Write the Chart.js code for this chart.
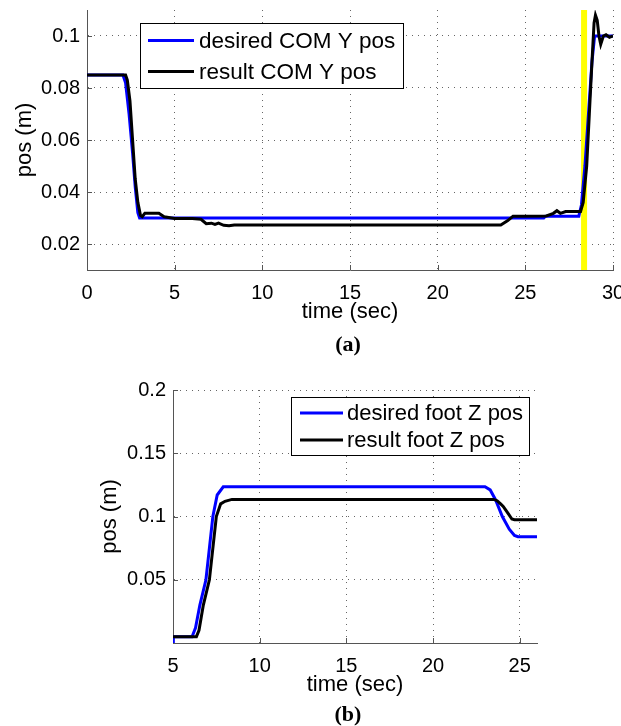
<!DOCTYPE html>
<html><head><meta charset="utf-8">
<script src="https://cdn.jsdelivr.net/npm/chart.js@4.4.0/dist/chart.umd.min.js"></script>
<style>
body{margin:0;background:#fff;width:621px;height:726px;position:relative;overflow:hidden;font-family:"Liberation Sans",Arial,sans-serif}
canvas{position:absolute;left:0}
#c1{top:0}
#c2{top:330px}
.cap{position:absolute;width:100px;text-align:center;font-family:"Liberation Serif","Times New Roman",serif;font-weight:bold;font-size:22px;line-height:22px}
</style></head><body>
<canvas id="c1" width="621" height="330"></canvas>
<canvas id="c2" width="621" height="396"></canvas>
<div class="cap" style="left:298px;top:333px">(a)</div>
<div class="cap" style="left:298px;top:703px">(b)</div>
<script>
// ---------- Chart (a): COM Y position ----------
const desiredComT = [0, 2.05, 2.2, 2.4, 2.6, 2.75, 2.9, 3.0, 26.05, 26.15, 28.05, 28.2, 28.4, 28.6, 28.8, 28.95, 30];
const desiredComY = [0.085, 0.085, 0.082, 0.07, 0.055, 0.042, 0.032, 0.030, 0.030, 0.0307, 0.0307, 0.035, 0.05, 0.07, 0.09, 0.1, 0.1];
const resultComT = [0, 2.2, 2.3, 2.45, 2.6, 2.75, 2.9, 3.05, 3.15, 3.3, 4.1, 4.4, 5.0, 6.0, 6.5, 6.8, 7.1, 7.3, 7.5, 7.8, 8.1, 8.4, 23.6, 24.0, 24.3, 24.8, 26.2, 26.6, 26.8, 27.0, 27.3, 28.15, 28.3, 28.5, 28.65, 28.8, 28.92, 29.0, 29.1, 29.2, 29.3, 29.45, 29.6, 29.8, 30];
const resultComY = [0.085, 0.085, 0.083, 0.075, 0.06, 0.045, 0.036, 0.031, 0.0305, 0.0318, 0.0318, 0.0305, 0.0298, 0.0298, 0.0295, 0.0278, 0.028, 0.0275, 0.028, 0.0272, 0.027, 0.0273, 0.0273, 0.029, 0.0307, 0.0307, 0.0308, 0.0318, 0.0328, 0.0318, 0.0325, 0.0325, 0.036, 0.05, 0.07, 0.09, 0.105, 0.108, 0.106, 0.1, 0.0968, 0.1, 0.1005, 0.0995, 0.1];
const markerT = [28.35, 28.35];
const markerY = [0.01, 0.11];
const xTicksA = [0, 5, 10, 15, 20, 25, 30];
const yTicksA = [0.02, 0.04, 0.06, 0.08, 0.1];
const yTickLabelsA = ['0.02', '0.04', '0.06', '0.08', '0.1'];

// ---------- Chart (b): foot Z position ----------
const desiredFootT = [5, 5.02, 6.1, 6.3, 6.55, 6.9, 7.1, 7.3, 7.55, 7.9, 23.0, 23.3, 23.6, 24.0, 24.4, 24.7, 24.9, 26];
const desiredFootZ = [0, 0.005, 0.005, 0.012, 0.03, 0.05, 0.075, 0.1, 0.117, 0.1235, 0.1235, 0.121, 0.1135, 0.1, 0.09, 0.085, 0.084, 0.084];
const resultFootT = [5, 6.35, 6.5, 6.75, 7.1, 7.3, 7.5, 7.75, 8.0, 8.4, 23.5, 23.7, 23.9, 24.05, 24.2, 24.35, 24.55, 24.7, 26];
const resultFootZ = [0.005, 0.005, 0.01, 0.03, 0.05, 0.075, 0.1, 0.11, 0.112, 0.1135, 0.1135, 0.1125, 0.110, 0.108, 0.105, 0.102, 0.098, 0.0975, 0.0975];
const xTicksB = [5, 10, 15, 20, 25];
const yTicksB = [0.05, 0.1, 0.15, 0.2];
const yTickLabelsB = ['0.05', '0.1', '0.15', '0.2'];

const pts = (t, v) => t.map((x, i) => ({x: x, y: v[i]}));
const FONT = '"Liberation Sans", Arial, sans-serif';

const boxLegend = {
  id: 'boxLegend',
  afterDatasetsDraw(chart, args, o) {
    const ctx = chart.ctx;
    ctx.save();
    ctx.fillStyle = '#fff';
    ctx.fillRect(o.x, o.y, o.w, o.h);
    ctx.strokeStyle = '#000'; ctx.lineWidth = 1;
    ctx.strokeRect(o.x + 0.5, o.y + 0.5, o.w, o.h);
    const items = chart.data.datasets.filter(d => d.inLegend);
    items.forEach((d, i) => {
      const cy = o.y + o.firstRow + i * o.rowH;
      ctx.strokeStyle = d.borderColor; ctx.lineWidth = d.borderWidth;
      ctx.beginPath(); ctx.moveTo(o.x + o.lineX0, cy); ctx.lineTo(o.x + o.lineX0 + o.lineLen, cy); ctx.stroke();
      ctx.fillStyle = '#000'; ctx.font = o.font; ctx.textBaseline = 'middle'; ctx.textAlign = 'left';
      ctx.fillText(d.label, o.x + o.textX, cy + 1);
    });
    ctx.restore();
  }
};

const inTicks = {
  id: 'inTicks',
  beforeDatasetsDraw(chart) {
    const {ctx, chartArea: a, scales: {x, y}} = chart;
    ctx.save(); ctx.strokeStyle = '#555'; ctx.lineWidth = 1;
    x.ticks.forEach(t => {
      const px = Math.round(x.getPixelForValue(t.value)) + 0.5;
      ctx.beginPath(); ctx.moveTo(px, a.bottom); ctx.lineTo(px, a.bottom - 5); ctx.stroke();
    });
    y.ticks.forEach(t => {
      const py = Math.round(y.getPixelForValue(t.value)) + 0.5;
      ctx.beginPath(); ctx.moveTo(a.left, py); ctx.lineTo(a.left + 5, py); ctx.stroke();
    });
    ctx.restore();
  }
};

function zeroPad(s) { s.paddingLeft = 0; s.paddingRight = 0; s.paddingTop = 0; s.paddingBottom = 0; }

function makeChart(id, cfg) {
  return new Chart(document.getElementById(id), {
    type: 'line',
    data: {datasets: cfg.datasets},
    options: {
      responsive: false, animation: false, devicePixelRatio: 1,
      layout: {autoPadding: false, padding: cfg.padding},
      elements: {point: {radius: 0}, line: {tension: 0}},
      plugins: {legend: {display: false}, tooltip: {enabled: false}, boxLegend: cfg.legend},
      scales: {
        x: {
          type: 'linear', min: cfg.xMin, max: cfg.xMax,
          afterBuildTicks: s => { s.ticks = cfg.xTicks.map(v => ({value: v})); },
          afterFit: s => { s.height = 55; zeroPad(s); },
          ticks: {font: {family: FONT, size: 20}, color: '#000', padding: 11, maxRotation: 0, callback: v => String(v)},
          grid: {color: '#666', lineWidth: 1, drawTicks: false},
          border: {display: true, color: '#555', width: 1, dash: [1, 5]},
          title: {display: true, text: 'time (sec)', font: {family: FONT, size: 22}, color: '#000', padding: 0}
        },
        y: {
          type: 'linear', min: cfg.yMin, max: cfg.yMax,
          afterBuildTicks: s => { s.ticks = cfg.yTicks.map(v => ({value: v})); },
          afterFit: s => { s.width = cfg.yWidth; zeroPad(s); },
          ticks: {font: {family: FONT, size: 20}, color: '#000', padding: 7,
            callback: v => cfg.yLabels[cfg.yTicks.findIndex(t => Math.abs(t - v) < 1e-9)]},
          grid: {color: '#666', lineWidth: 1, drawTicks: false},
          border: {display: true, color: '#555', width: 1, dash: [1, 5]},
          title: {display: true, text: 'pos (m)', font: {family: FONT, size: 22}, color: '#000', padding: 0}
        }
      }
    },
    plugins: [inTicks, boxLegend]
  });
}

makeChart('c1', {
  datasets: [
    {label: 'desired COM Y pos', data: pts(desiredComT, desiredComY), borderColor: '#0000ff', borderWidth: 3, order: 2, inLegend: true},
    {label: 'result COM Y pos', data: pts(resultComT, resultComY), borderColor: '#000000', borderWidth: 3, order: 1, inLegend: true},
    {label: 'marker', data: pts(markerT, markerY), borderColor: '#ffff00', borderWidth: 6, order: 3, inLegend: false}
  ],
  padding: {top: 10, right: 8, left: 12, bottom: 5},
  xMin: 0, xMax: 30, xTicks: xTicksA,
  yMin: 0.01, yMax: 0.11, yTicks: yTicksA, yLabels: yTickLabelsA, yWidth: 75,
  legend: {x: 140, y: 23, w: 263, h: 65, firstRow: 17.5, rowH: 31, lineX0: 8, lineLen: 46, textX: 59, font: '22.5px ' + FONT}
});

makeChart('c2', {
  datasets: [
    {label: 'desired foot Z pos', data: pts(desiredFootT, desiredFootZ), borderColor: '#0000ff', borderWidth: 3, order: 2, inLegend: true},
    {label: 'result foot Z pos', data: pts(resultFootT, resultFootZ), borderColor: '#000000', borderWidth: 3, order: 1, inLegend: true}
  ],
  padding: {top: 60, right: 84, left: 97, bottom: 28},
  xMin: 5, xMax: 26, xTicks: xTicksB,
  yMin: 0, yMax: 0.2, yTicks: yTicksB, yLabels: yTickLabelsB, yWidth: 76,
  legend: {x: 291, y: 67, w: 238, h: 58, firstRow: 16, rowH: 27, lineX0: 9, lineLen: 43, textX: 56, font: '22px ' + FONT}
});
</script>
</body></html>
